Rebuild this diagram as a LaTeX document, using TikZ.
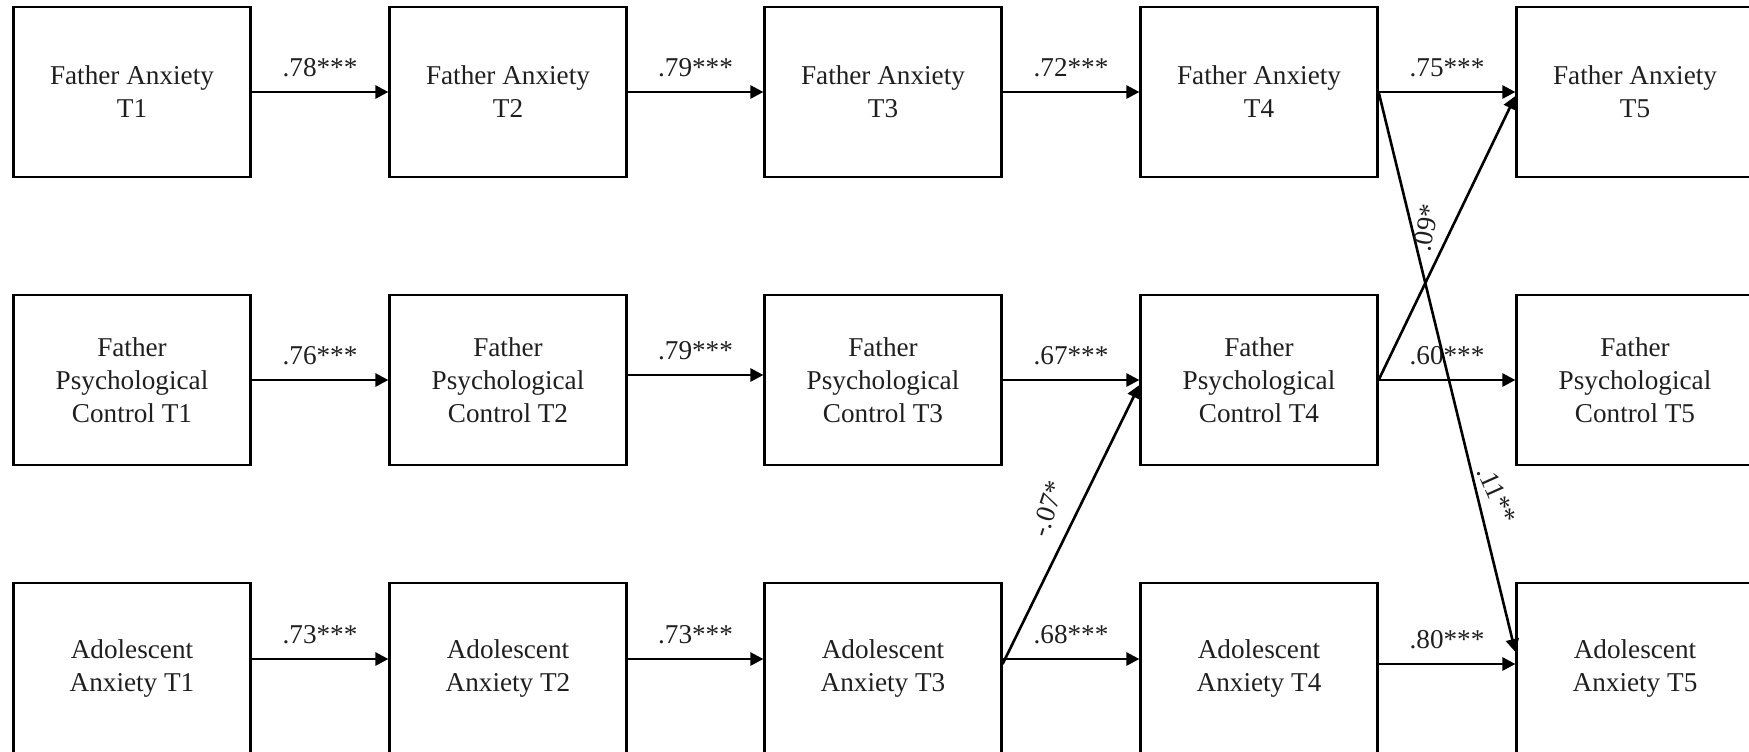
\documentclass[tikz,border=0pt]{standalone}
\usepackage{fontspec}
\setmainfont{Liberation Serif}
\usetikzlibrary{arrows.meta}
\begin{document}
\begin{tikzpicture}[x=0.5pt,y=-0.5pt,
  var/.style={draw=black, line width=1.1pt, minimum width=118.5pt, minimum height=85pt,
    align=center, inner sep=0pt, text=black!88, font=\fontsize{13.6}{16.5}\selectfont},
  arr/.style={line width=1.3pt, -{Triangle[length=6.5pt,width=6.5pt]}},
  coef/.style={inner sep=0pt, text=black!88, font=\fontsize{13.6}{16.5}\selectfont},
  up/.style={coef, yshift=12pt}
]
\useasboundingbox (0,0) rectangle (1749,751);

% father anxiety
\node[var] (fa1) at (132,92)  {Father Anxiety\\T1};
\node[var] (fa2) at (508,92)  {Father Anxiety\\T2};
\node[var] (fa3) at (883,92)  {Father Anxiety\\T3};
\node[var] (fa4) at (1259,92) {Father Anxiety\\T4};
\node[var] (fa5) at (1635,92) {Father Anxiety\\T5};

% father psychological control
\node[var] (pc1) at (132,380)  {Father\\Psychological\\Control T1};
\node[var] (pc2) at (508,380)  {Father\\Psychological\\Control T2};
\node[var] (pc3) at (883,380)  {Father\\Psychological\\Control T3};
\node[var] (pc4) at (1259,380) {Father\\Psychological\\Control T4};
\node[var] (pc5) at (1635,380) {Father\\Psychological\\Control T5};

% adolescent anxiety
\node[var] (aa1) at (132,668)  {Adolescent\\Anxiety T1};
\node[var] (aa2) at (508,668)  {Adolescent\\Anxiety T2};
\node[var] (aa3) at (883,668)  {Adolescent\\Anxiety T3};
\node[var] (aa4) at (1259,668) {Adolescent\\Anxiety T4};
\node[var] (aa5) at (1635,668) {Adolescent\\Anxiety T5};

% stability paths
\draw[arr] (fa1) -- node[up]{.78***} (fa2);
\draw[arr] (fa2) -- node[up]{.79***} (fa3);
\draw[arr] (fa3) -- node[up]{.72***} (fa4);
\draw[arr] (fa4) -- node[up]{.75***} (fa5);

\draw[arr] (pc1) -- node[up]{.76***} (pc2);
\draw[arr] ([yshift=2.5pt]pc2.east) -- node[up]{.79***} ([yshift=2.5pt]pc3.west);
\draw[arr] (pc3) -- node[up]{.67***} (pc4);
\draw[arr] (pc4) -- node[up]{.60***} (pc5);

\draw[arr] ([yshift=4.5pt]aa1.east) -- node[up]{.73***} ([yshift=4.5pt]aa2.west);
\draw[arr] ([yshift=4.5pt]aa2.east) -- node[up]{.73***} ([yshift=4.5pt]aa3.west);
\draw[arr] ([yshift=4.5pt]aa3.east) -- node[up]{.68***} ([yshift=4.5pt]aa4.west);
\draw[arr] ([yshift=2pt]aa4.east) -- node[up]{.80***} ([yshift=2pt]aa5.west);

% cross-lagged paths
\draw[arr] (fa4.east) -- ([yshift=8pt]aa5.west);
\draw[arr] (pc4.east) -- ([yshift=-2pt]fa5.west);
\draw[arr] ([yshift=2pt]aa3.east) -- ([yshift=-2.5pt]pc4.west);

\node[coef, rotate=80]  (l09) at (1426,228) {.09*};
\node[coef, rotate=-66] (l11) at (1497,495) {.11**};
\node[coef, rotate=72]  (l07) at (1048,509) {-.07*};
\end{tikzpicture}
\end{document}
